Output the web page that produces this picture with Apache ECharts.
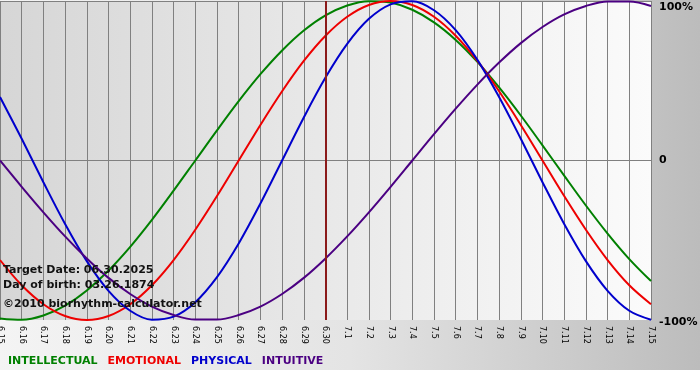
<!DOCTYPE html>
<html>
<head>
<meta charset="utf-8">
<script src="https://cdn.jsdelivr.net/npm/echarts@6/dist/echarts.min.js"></script>
<style>
html,body{margin:0;padding:0;background:#ffffff;}
#chart{width:700px;height:370px;}
</style>
</head>
<body>
<div id="chart"></div>
<script>
// Dates (day ticks) from 6.15 to 7.15
const categories = ['6.15','6.16','6.17','6.18','6.19','6.20','6.21','6.22','6.23','6.24','6.25','6.26','6.27','6.28','6.29','6.30',
  '7.1','7.2','7.3','7.4','7.5','7.6','7.7','7.8','7.9','7.10','7.11','7.12','7.13','7.14','7.15'];

// Cycle values in percent, read per day
const intellectual = [-99.0,-99.9,-97.2,-91.0,-81.5,-69.0,-54.1,-37.2,-18.9,0,18.9,37.2,54.1,69.0,81.5,91.0,
  97.2,99.9,99.0,94.5,86.6,75.6,61.8,45.8,28.2,9.5,-9.5,-28.2,-45.8,-61.8,-75.6];
const emotional = [-62.4,-78.2,-90.1,-97.5,-100,-97.5,-90.1,-78.2,-62.4,-43.4,-22.3,0,22.3,43.4,62.4,78.2,
  90.1,97.5,100,97.5,90.1,78.2,62.4,43.4,22.3,0,-22.3,-43.4,-62.4,-78.2,-90.1];
const physical = [39.8,13.6,-13.6,-39.8,-63.1,-81.7,-94.2,-99.8,-97.9,-88.8,-73.1,-52.0,-27.0,0,27.0,52.0,
  73.1,88.8,97.9,99.8,94.2,81.7,63.1,39.8,13.6,-13.6,-39.8,-63.1,-81.7,-94.2,-99.8];
const intuitive = [0,-16.5,-32.5,-47.6,-61.4,-73.6,-83.7,-91.6,-96.9,-99.7,-99.7,-96.9,-91.6,-83.7,-73.6,-61.4,
  -47.6,-32.5,-16.5,0,16.5,32.5,47.6,61.4,73.6,83.7,91.6,96.9,99.7,99.7,96.9];

const targetDay = '6.30';
const seriesNames = ['INTELLECTUAL','EMOTIONAL','PHYSICAL','INTUITIVE'];
const seriesColors = ['#008000','#ee0000','#0000cc','#4b0082'];
const seriesData = [intellectual, emotional, physical, intuitive];
const infoLines = ['Target Date: 06.30.2025','Day of birth: 03.26.1874','\u00a92010 biorhythm-calculator.net'];

const chart = echarts.init(document.getElementById('chart'), null, {renderer:'canvas'});

const series = seriesNames.map((name, i) => ({
  name: name,
  type: 'line',
  data: seriesData[i],
  smooth: 0.34,
  clip: false,
  symbol: 'none',
  lineStyle: {color: seriesColors[i], width: 2},
  itemStyle: {color: seriesColors[i]},
  z: 3,
  markLine: i === 3 ? {
    silent: true,
    symbol: ['none','none'],
    label: {show: false},
    lineStyle: {color: '#8b1a1a', width: 2, type: 'solid'},
    data: [{xAxis: targetDay}],
    animation: false
  } : undefined
}));

const option = {
  animation: false,
  backgroundColor: {
    type: 'linear', x: 0, y: 0, x2: 1, y2: 0,
    colorStops: [{offset: 0, color: '#f4f4f4'}, {offset: 0.5, color: '#e4e4e4'}, {offset: 1, color: '#bcbcbc'}]
  },
  grid: {
    left: 0, right: 49, top: 1, bottom: 50,
    outerBoundsMode: 'none',
    containLabel: false,
    show: true, borderWidth: 0,
    backgroundColor: {
      type: 'linear', x: 0, y: 0, x2: 1, y2: 0,
      colorStops: [{offset: 0, color: '#d6d6d6'}, {offset: 1, color: '#fbfbfb'}]
    }
  },
  legend: {
    left: 3, top: 356, padding: 0,
    icon: 'none', itemWidth: 0, itemHeight: 0, itemGap: 5,
    selectedMode: false,
    data: seriesNames.map((n, i) => ({name: n, textStyle: {color: seriesColors[i]}})),
    textStyle: {fontFamily: 'DejaVu Sans', fontWeight: 'bold', fontSize: 11}
  },
  xAxis: {
    type: 'category',
    data: categories,
    boundaryGap: false,
    axisLine: {show: false},
    axisTick: {show: false},
    splitLine: {show: true, interval: 0, lineStyle: {color: '#808080', width: 1}},
    axisLabel: {
      interval: 0, rotate: -90, margin: 6,
      fontFamily: 'DejaVu Sans', fontSize: 8, color: '#000'
    }
  },
  yAxis: {
    type: 'value',
    position: 'right',
    min: -100, max: 100, interval: 100,
    axisLine: {show: false},
    axisTick: {show: false},
    splitLine: {show: true, lineStyle: {color: ['transparent', '#808080', '#808080'], width: 1}},
    axisLabel: {
      margin: 8,
      fontFamily: 'DejaVu Sans', fontWeight: 'bold', fontSize: 11, color: '#000',
      formatter: function (v) {
        if (v === 100) return '{top|100%}';
        if (v === -100) return '{bot|-100%}';
        if (v === 0) return '0';
        return '';
      },
      rich: {
        top: {fontFamily: 'DejaVu Sans', fontWeight: 'bold', fontSize: 11, color: '#000', padding: [12, 0, 0, 0]},
        bot: {fontFamily: 'DejaVu Sans', fontWeight: 'bold', fontSize: 11, color: '#000', padding: [4, 0, 0, 0]}
      }
    }
  },
  graphic: infoLines.map((t, i) => ({
    type: 'text',
    left: 3,
    top: [265, 280, 299][i],
    z: 100,
    style: {text: t, font: 'bold 11px "DejaVu Sans"', fill: '#111'}
  })),
  series: series
};
chart.setOption(option);
</script>
</body>
</html>
